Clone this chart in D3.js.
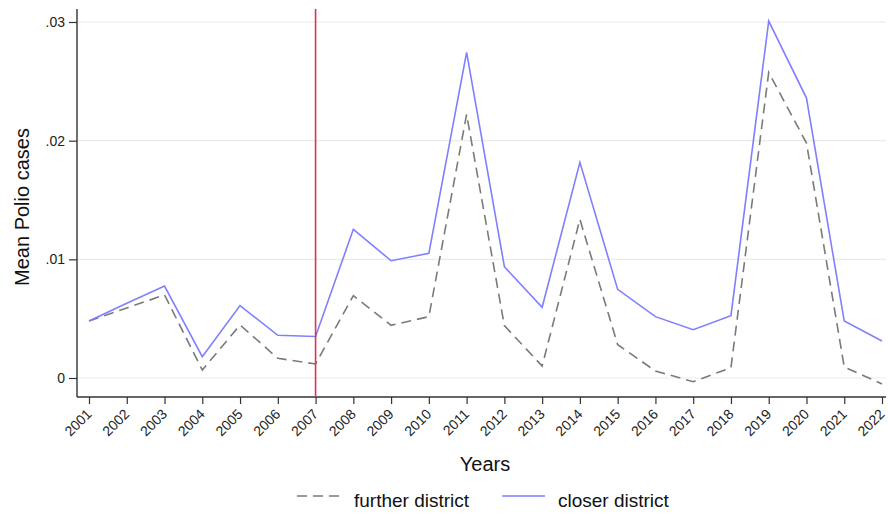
<!DOCTYPE html>
<html><head><meta charset="utf-8">
<script src="https://cdn.jsdelivr.net/npm/d3@7"></script>
<style>body{margin:0;background:#fff;}svg{display:block;font-family:"Liberation Sans",Arial,sans-serif;}</style>
</head><body>
<svg id="c" width="888" height="514"></svg>
<script>
const years = [2001,2002,2003,2004,2005,2006,2007,2008,2009,2010,2011,2012,2013,2014,2015,2016,2017,2018,2019,2020,2021,2022];
const closer = [0.0048,0.0063,0.00775,0.0018,0.0061,0.0036,0.0035,0.01253,0.00988,0.0105,0.02744,0.00938,0.00596,0.01817,0.00747,0.00517,0.00407,0.00525,0.03008,0.02359,0.0048,0.00312];
const further = [0.0048,0.0059,0.0070,0.00067,0.00447,0.00166,0.00118,0.00694,0.00444,0.00517,0.02221,0.00441,0.00101,0.01337,0.00281,0.00059,-0.00031,0.00087,0.02575,0.0198,0.00093,-0.0005];
const yTicks = [0,0.01,0.02,0.03];
const yTickLabels = ["0",".01",".02",".03"];
const eventYear = 2007;

const svg = d3.select("#c");
const pL = 77, pR = 886, pT = 9, pB = 397;
const x = d3.scaleLinear().domain([2001,2022]).range([89,882]);
const y = d3.scaleLinear().domain([0,0.03]).range([378,22]);

// gridlines
svg.append("g").selectAll("line").data(yTicks).join("line")
  .attr("x1",pL).attr("x2",pR).attr("y1",d=>y(d)).attr("y2",d=>y(d))
  .attr("stroke","#ebebeb").attr("stroke-width",1.2);

// axes
const yAxis = d3.axisLeft(y).tickValues(yTicks).tickFormat((d,i)=>yTickLabels[i]).tickSize(8).tickPadding(4);
const gy = svg.append("g").attr("transform",`translate(${pL},0)`).call(yAxis);
gy.select(".domain").remove();
gy.append("line").attr("x1",0).attr("x2",0).attr("y1",pT).attr("y2",pB).attr("stroke","#333").attr("stroke-width",1.4);
gy.selectAll(".tick line").attr("stroke","#333").attr("stroke-width",1.2);
gy.selectAll(".tick text").attr("fill","#222").style("font-size","14px");

const xAxis = d3.axisBottom(x).tickValues(years).tickFormat(d3.format("d")).tickSize(7);
const gx = svg.append("g").attr("transform",`translate(0,${pB})`).call(xAxis);
gx.select(".domain").remove();
gx.append("line").attr("x1",pL).attr("x2",pR).attr("y1",0).attr("y2",0).attr("stroke","#333").attr("stroke-width",1.4);
gx.selectAll(".tick line").attr("stroke","#333").attr("stroke-width",1.2);
gx.selectAll(".tick text").attr("fill","#222").style("font-size","14px")
  .attr("text-anchor","end").attr("dy",null).attr("y",0)
  .attr("transform","translate(3,18) rotate(-45)");

// series
const data = years.map((yr,i)=>({yr, c:closer[i], f:further[i]}));
const lineF = d3.line().x(d=>x(d.yr)).y(d=>y(d.f));
const lineC = d3.line().x(d=>x(d.yr)).y(d=>y(d.c));
svg.append("path").datum(data).attr("d",lineF).attr("fill","none")
  .attr("stroke","#7a7a7a").attr("stroke-width",1.6).attr("stroke-dasharray","10,6");
svg.append("path").datum(data).attr("d",lineC).attr("fill","none")
  .attr("stroke","#7f7fff").attr("stroke-width",1.6);

// event line
svg.append("line").attr("x1",x(eventYear)).attr("x2",x(eventYear)).attr("y1",pT).attr("y2",pB)
  .attr("stroke","#d6345c").attr("stroke-width",1.6);

// titles
svg.append("text").attr("x",485).attr("y",471).attr("text-anchor","middle")
  .style("font-size","20px").attr("fill","#111").text("Years");
svg.append("text").attr("transform","translate(29,207) rotate(-90)").attr("text-anchor","middle")
  .style("font-size","20px").attr("fill","#111").text("Mean Polio cases");

// legend
const lg = svg.append("g");
lg.append("line").attr("x1",297).attr("x2",343).attr("y1",496).attr("y2",496)
  .attr("stroke","#7a7a7a").attr("stroke-width",1.6).attr("stroke-dasharray","10,6");
lg.append("text").attr("x",354).attr("y",507).style("font-size","19px").attr("fill","#111").text("further district");
lg.append("line").attr("x1",502).attr("x2",545).attr("y1",496).attr("y2",496)
  .attr("stroke","#7f7fff").attr("stroke-width",1.6);
lg.append("text").attr("x",558).attr("y",507).style("font-size","19px").attr("fill","#111").text("closer district");
</script>
</body></html>
